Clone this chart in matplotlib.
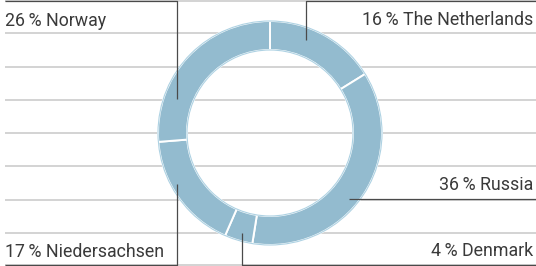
import matplotlib
matplotlib.use("Agg")
import matplotlib.pyplot as plt
import numpy as np

# data
countries = ["The Netherlands", "Russia", "Denmark", "Niedersachsen", "Norway"]
shares = [16, 36, 4, 17, 26]

W, H = 536, 266
fig = plt.figure(figsize=(W / 100, H / 100), dpi=100)
ax = fig.add_axes([0, 0, 1, 1])

def Y(yi):
    return H - yi

# grid lines
for k in range(9):
    yi = k * H / 8
    yi = min(max(yi, 0.6), H - 0.6)
    ax.plot([5, W], [Y(yi), Y(yi)], color="#cccccc", lw=1.2, zorder=1, solid_capstyle="butt")

# donut
cx, cy, R, width = 270, Y(133), 112, 29
ring_color = "#93bbcf"
wedges, _ = ax.pie(shares, startangle=90, counterclock=False, center=(cx, cy), radius=R,
                   colors=[ring_color] * len(shares),
                   wedgeprops=dict(width=width, edgecolor="white", linewidth=1.4),
                   frame=True)
for w in wedges:
    w.set_zorder(2)
ax.set_xlim(0, W)
ax.set_ylim(0, H)
ax.set_aspect("equal")
ax.axis("off")
for r in (R, R - width):
    c = plt.Circle((cx, cy), r, fill=False, edgecolor="#aed2e3", lw=0.8, zorder=3)
    ax.add_patch(c)

# leader lines (layout, pixel coords in image space)
dark = "#4a4a4a"
leaders = {
    "Norway": [(5, 0.6), (177, 0.6), (177, 99)],
    "The Netherlands": [(W, 0.6), (306, 0.6), (306, 40)],
    "Russia": [(W, 199), (349, 199)],
    "Denmark": [(W, 265.4), (242, 265.4), (242, 233)],
    "Niedersachsen": [(5, 265.4), (177, 265.4), (177, 184)],
}
for name, pts in leaders.items():
    xs = [p[0] for p in pts]
    ys = [Y(p[1]) for p in pts]
    ax.plot(xs, ys, color=dark, lw=0.9, zorder=4, solid_capstyle="butt")

# labels
label_pos = {
    "Norway": (5, 26, "left"),
    "The Netherlands": (533, 25, "right"),
    "Russia": (533, 190, "right"),
    "Denmark": (533, 256, "right"),
    "Niedersachsen": (5, 257, "left"),
}
for name, val in zip(countries, shares):
    x, yb, ha = label_pos[name]
    ax.text(x, Y(yb), f"{val}\u2009% {name}", ha=ha, va="baseline", fontsize=12.8,
            family=["Roboto", "DejaVu Sans"], fontweight="normal", color="#3a3a3a", zorder=5)

fig.savefig("out.png", dpi=100)
